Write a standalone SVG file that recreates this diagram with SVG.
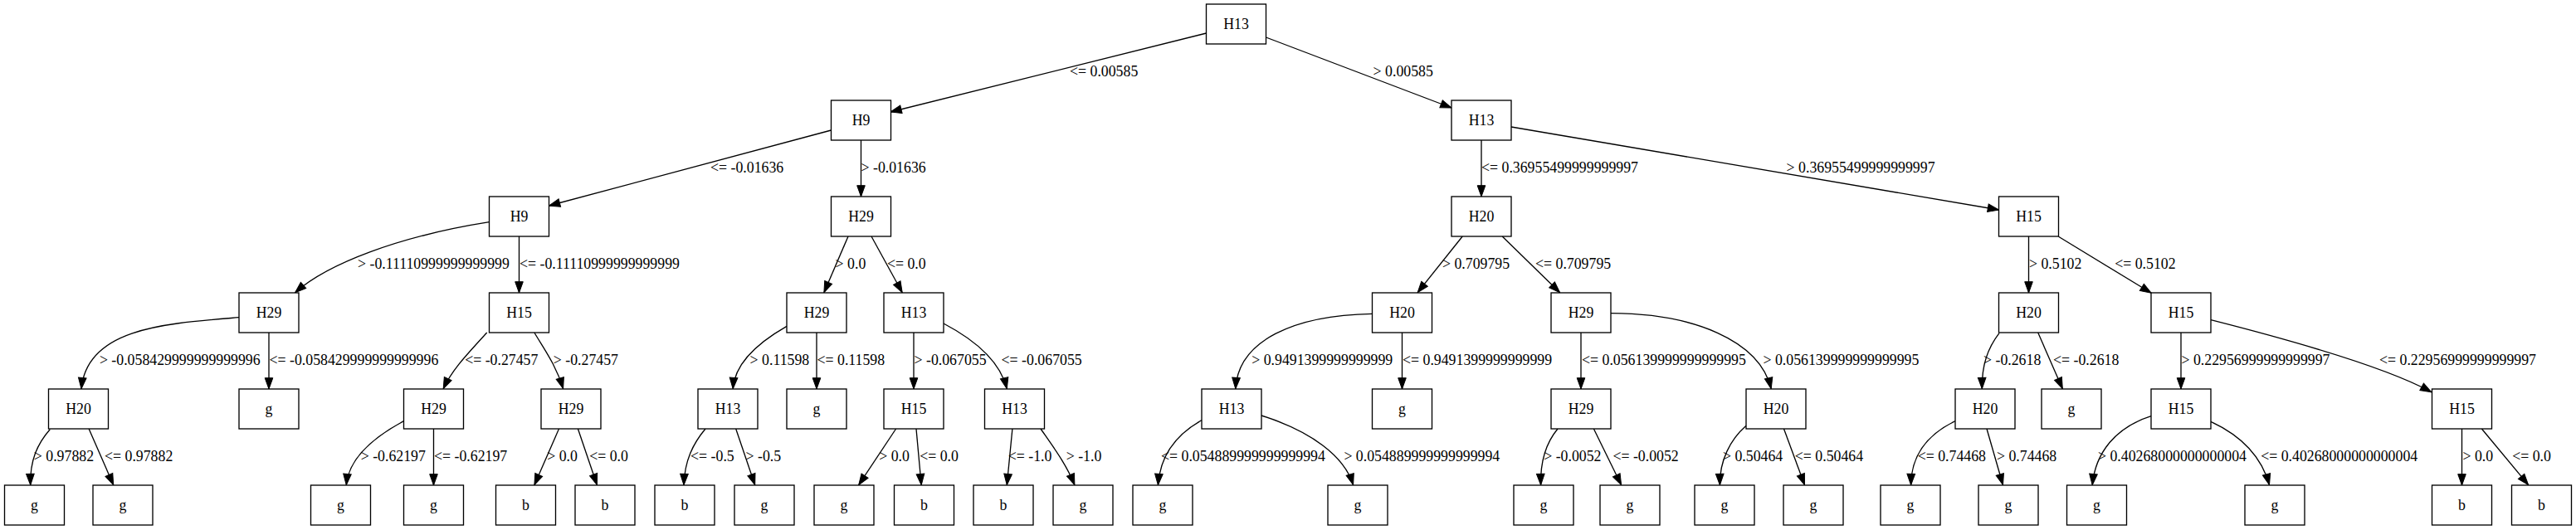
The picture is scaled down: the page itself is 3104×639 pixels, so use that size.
<svg xmlns="http://www.w3.org/2000/svg" width="3104" height="639" viewBox="0 0 3104 639">
<style>
.n rect{fill:#fff;stroke:#000;stroke-width:1.33}
.n text{font-family:"Liberation Serif","Times New Roman",serif;font-size:17.8px;text-anchor:middle;fill:#000}
.e path{fill:none;stroke:#000;stroke-width:1.33;marker-end:url(#ah)}
.e text{font-family:"Liberation Serif","Times New Roman",serif;font-size:17.8px;fill:#000}
</style>
<defs><marker id="ah" markerUnits="userSpaceOnUse" markerWidth="16" markerHeight="12" refX="13.3" refY="4.8" orient="auto" overflow="visible"><path d="M0,0L13.3,4.8L0,9.6z" fill="#000" stroke="#000" stroke-width="1"/></marker></defs>
<rect width="3104" height="639" fill="#fff"/>
<g id="connectors">
<g class="e"><path d="M1453.6,40 L1073,135"/><text x="1289" y="92">&lt;= 0.00585</text></g>
<g class="e"><path d="M1525.5,45 L1749,130"/><text x="1654.6" y="92">&gt; 0.00585</text></g>
<g class="e"><path d="M1001.5,157 L661.5,248"/><text x="856" y="208">&lt;= -0.01636</text></g>
<g class="e"><path d="M1037.5,169 L1037.5,237"/><text x="1037.5" y="208">&gt; -0.01636</text></g>
<g class="e"><path d="M1785,169 L1785,237"/><text x="1785" y="208">&lt;= 0.36955499999999997</text></g>
<g class="e"><path d="M1821,153 L2408.5,253"/><text x="2152.6" y="208">&gt; 0.36955499999999997</text></g>
<g class="e"><path d="M589.5,267.7 C480,285 395,318 355.6,352.7"/><text x="431" y="324">&gt; -0.11110999999999999</text></g>
<g class="e"><path d="M625.5,285 L625.5,353"/><text x="626" y="324">&lt;= -0.11110999999999999</text></g>
<g class="e"><path d="M1022,285 L992.9,352.7"/><text x="1006.6" y="324">&gt; 0.0</text></g>
<g class="e"><path d="M1050,285 L1087.2,352.7"/><text x="1068.9" y="324">&lt;= 0.0</text></g>
<g class="e"><path d="M1762.2,285 L1708.2,352.7"/><text x="1738" y="324">&gt; 0.709795</text></g>
<g class="e"><path d="M1810.2,285 L1879.6,352.7"/><text x="1850" y="324">&lt;= 0.709795</text></g>
<g class="e"><path d="M2444.5,285 L2444.5,353"/><text x="2445" y="324">&gt; 0.5102</text></g>
<g class="e"><path d="M2480.5,285.3 L2592.2,353.3"/><text x="2548.2" y="324">&lt;= 0.5102</text></g>
<g class="e"><path d="M288,382.7 C200,390 105,395 98,468.7"/><text x="119.9" y="440">&gt; -0.058429999999999996</text></g>
<g class="e"><path d="M324,401 L324,469"/><text x="324.5" y="440">&lt;= -0.058429999999999996</text></g>
<g class="e"><path d="M586.7,401 C565,425 545,445 534.2,468.7"/><text x="560.2" y="440">&lt;= -0.27457</text></g>
<g class="e"><path d="M643.9,401 C655,420 670,440 678.6,468.7"/><text x="666.8" y="440">&gt; -0.27457</text></g>
<g class="e"><path d="M948,393.3 C910,415 885,440 883.2,468.7"/><text x="903.6" y="440">&gt; 0.11598</text></g>
<g class="e"><path d="M984,401 L984,469"/><text x="984.5" y="440">&lt;= 0.11598</text></g>
<g class="e"><path d="M1101,401 L1101,469"/><text x="1101.5" y="440">&gt; -0.067055</text></g>
<g class="e"><path d="M1137,390 C1175,410 1205,435 1213.3,468.7"/><text x="1206.6" y="440">&lt;= -0.067055</text></g>
<g class="e"><path d="M1653.5,378.3 C1560,380 1492,410 1488.8,468.7"/><text x="1508.2" y="440">&gt; 0.9491399999999999</text></g>
<g class="e"><path d="M1689.5,401 L1689.5,469"/><text x="1690" y="440">&lt;= 0.9491399999999999</text></g>
<g class="e"><path d="M1905,401 L1905,469"/><text x="1906" y="440">&lt;= 0.056139999999999995</text></g>
<g class="e"><path d="M1941,377.7 C2040,378 2120,410 2134.2,468.7"/><text x="2124.5" y="440">&gt; 0.056139999999999995</text></g>
<g class="e"><path d="M2409,401.7 C2395,420 2388,440 2388.3,468.7"/><text x="2390" y="440">&gt; -0.2618</text></g>
<g class="e"><path d="M2455.7,401 L2485.3,468.7"/><text x="2474" y="440">&lt;= -0.2618</text></g>
<g class="e"><path d="M2628,401 L2628,469"/><text x="2628.5" y="440">&gt; 0.22956999999999997</text></g>
<g class="e"><path d="M2664,385.7 C2740,405 2870,440 2929.8,472.7"/><text x="2867" y="440">&lt;= 0.22956999999999997</text></g>
<g class="e"><path d="M60.2,517.7 C45,535 36,555 36.7,584.7"/><text x="40.8" y="556">&gt; 0.97882</text></g>
<g class="e"><path d="M107.1,517 L136.7,584.7"/><text x="126" y="556">&lt;= 0.97882</text></g>
<g class="e"><path d="M486.5,507.7 C445,530 420,555 417.3,584.7"/><text x="434.7" y="556">&gt; -0.62197</text></g>
<g class="e"><path d="M522.5,517 L522.5,585"/><text x="523" y="556">&lt;= -0.62197</text></g>
<g class="e"><path d="M673.5,517 L643.9,584.7"/><text x="659.2" y="556">&gt; 0.0</text></g>
<g class="e"><path d="M696.4,517 L719.4,584.7"/><text x="710.2" y="556">&lt;= 0.0</text></g>
<g class="e"><path d="M850,517 C835,535 825,555 824,584.7"/><text x="832.1" y="556">&lt;= -0.5</text></g>
<g class="e"><path d="M886.7,517 L909.7,584.7"/><text x="898.5" y="556">&gt; -0.5</text></g>
<g class="e"><path d="M1079.6,517 L1034.7,584.7"/><text x="1059.2" y="556">&gt; 0.0</text></g>
<g class="e"><path d="M1104,517 L1110.2,584.7"/><text x="1108.2" y="556">&lt;= 0.0</text></g>
<g class="e"><path d="M1219.9,517 L1213.3,584.7"/><text x="1214.8" y="556">&lt;= -1.0</text></g>
<g class="e"><path d="M1254,517 C1270,540 1285,560 1294.9,584.7"/><text x="1284.7" y="556">&gt; -1.0</text></g>
<g class="e"><path d="M1448,506.7 C1415,525 1398,550 1395.4,584.7"/><text x="1399" y="556">&lt;= 0.054889999999999994</text></g>
<g class="e"><path d="M1520,501 C1580,520 1620,550 1630.6,584.7"/><text x="1619.4" y="556">&gt; 0.054889999999999994</text></g>
<g class="e"><path d="M1877,517 C1862,535 1856,560 1856.6,584.7"/><text x="1860.2" y="556">&gt; -0.0052</text></g>
<g class="e"><path d="M1920.4,517 L1953.6,584.7"/><text x="1943.4" y="556">&lt;= -0.0052</text></g>
<g class="e"><path d="M2104,513.3 C2085,530 2072,555 2072.4,584.7"/><text x="2076" y="556">&gt; 0.50464</text></g>
<g class="e"><path d="M2149.5,517 L2174.5,584.7"/><text x="2162.8" y="556">&lt;= 0.50464</text></g>
<g class="e"><path d="M2356,507.7 C2320,525 2303,550 2302.6,584.7"/><text x="2310.7" y="556">&lt;= 0.74468</text></g>
<g class="e"><path d="M2394,517 L2413.5,584.7"/><text x="2406" y="556">&gt; 0.74468</text></g>
<g class="e"><path d="M2592,501.7 C2550,515 2525,545 2521.2,584.7"/><text x="2528" y="556">&gt; 0.40268000000000004</text></g>
<g class="e"><path d="M2664,508.3 C2700,525 2725,550 2734.5,584.7"/><text x="2724.2" y="556">&lt;= 0.40268000000000004</text></g>
<g class="e"><path d="M2966.5,517 L2966.5,585"/><text x="2967.5" y="556">&gt; 0.0</text></g>
<g class="e"><path d="M2990.4,517 L3046.6,584.7"/><text x="3027.2" y="556">&lt;= 0.0</text></g>
</g>
<g id="node0" class="n"><rect x="1453.5" y="5" width="72" height="48"/><text x="1489.5" y="34.5">H13</text></g>
<g id="node1" class="n"><rect x="1001.5" y="121" width="72" height="48"/><text x="1037.5" y="150.5">H9</text></g>
<g id="node2" class="n"><rect x="1749" y="121" width="72" height="48"/><text x="1785" y="150.5">H13</text></g>
<g id="node3" class="n"><rect x="589.5" y="237" width="72" height="48"/><text x="625.5" y="266.5">H9</text></g>
<g id="node4" class="n"><rect x="1001.5" y="237" width="72" height="48"/><text x="1037.5" y="266.5">H29</text></g>
<g id="node5" class="n"><rect x="1749" y="237" width="72" height="48"/><text x="1785" y="266.5">H20</text></g>
<g id="node6" class="n"><rect x="2408.5" y="237" width="72" height="48"/><text x="2444.5" y="266.5">H15</text></g>
<g id="node7" class="n"><rect x="288" y="353" width="72" height="48"/><text x="324" y="382.5">H29</text></g>
<g id="node8" class="n"><rect x="589.5" y="353" width="72" height="48"/><text x="625.5" y="382.5">H15</text></g>
<g id="node9" class="n"><rect x="948" y="353" width="72" height="48"/><text x="984" y="382.5">H29</text></g>
<g id="node10" class="n"><rect x="1065" y="353" width="72" height="48"/><text x="1101" y="382.5">H13</text></g>
<g id="node11" class="n"><rect x="1653.5" y="353" width="72" height="48"/><text x="1689.5" y="382.5">H20</text></g>
<g id="node12" class="n"><rect x="1869" y="353" width="72" height="48"/><text x="1905" y="382.5">H29</text></g>
<g id="node13" class="n"><rect x="2408.5" y="353" width="72" height="48"/><text x="2444.5" y="382.5">H20</text></g>
<g id="node14" class="n"><rect x="2592" y="353" width="72" height="48"/><text x="2628" y="382.5">H15</text></g>
<g id="node15" class="n"><rect x="58.5" y="469" width="72" height="48"/><text x="94.5" y="498.5">H20</text></g>
<g id="node16" class="n"><rect x="288" y="469" width="72" height="48"/><text x="324" y="498.5">g</text></g>
<g id="node17" class="n"><rect x="486.5" y="469" width="72" height="48"/><text x="522.5" y="498.5">H29</text></g>
<g id="node18" class="n"><rect x="652" y="469" width="72" height="48"/><text x="688" y="498.5">H29</text></g>
<g id="node19" class="n"><rect x="841" y="469" width="72" height="48"/><text x="877" y="498.5">H13</text></g>
<g id="node20" class="n"><rect x="948" y="469" width="72" height="48"/><text x="984" y="498.5">g</text></g>
<g id="node21" class="n"><rect x="1065" y="469" width="72" height="48"/><text x="1101" y="498.5">H15</text></g>
<g id="node22" class="n"><rect x="1186.5" y="469" width="72" height="48"/><text x="1222.5" y="498.5">H13</text></g>
<g id="node23" class="n"><rect x="1448" y="469" width="72" height="48"/><text x="1484" y="498.5">H13</text></g>
<g id="node24" class="n"><rect x="1653.5" y="469" width="72" height="48"/><text x="1689.5" y="498.5">g</text></g>
<g id="node25" class="n"><rect x="1869" y="469" width="72" height="48"/><text x="1905" y="498.5">H29</text></g>
<g id="node26" class="n"><rect x="2104" y="469" width="72" height="48"/><text x="2140" y="498.5">H20</text></g>
<g id="node27" class="n"><rect x="2356" y="469" width="72" height="48"/><text x="2392" y="498.5">H20</text></g>
<g id="node28" class="n"><rect x="2460" y="469" width="72" height="48"/><text x="2496" y="498.5">g</text></g>
<g id="node29" class="n"><rect x="2592" y="469" width="72" height="48"/><text x="2628" y="498.5">H15</text></g>
<g id="node30" class="n"><rect x="2930.5" y="469" width="72" height="48"/><text x="2966.5" y="498.5">H15</text></g>
<g id="node31" class="n"><rect x="5.5" y="585" width="72" height="48"/><text x="41.5" y="614.5">g</text></g>
<g id="node32" class="n"><rect x="112" y="585" width="72" height="48"/><text x="148" y="614.5">g</text></g>
<g id="node33" class="n"><rect x="374.5" y="585" width="72" height="48"/><text x="410.5" y="614.5">g</text></g>
<g id="node34" class="n"><rect x="486.5" y="585" width="72" height="48"/><text x="522.5" y="614.5">g</text></g>
<g id="node35" class="n"><rect x="597.5" y="585" width="72" height="48"/><text x="633.5" y="614.5">b</text></g>
<g id="node36" class="n"><rect x="693" y="585" width="72" height="48"/><text x="729" y="614.5">b</text></g>
<g id="node37" class="n"><rect x="789" y="585" width="72" height="48"/><text x="825" y="614.5">b</text></g>
<g id="node38" class="n"><rect x="885" y="585" width="72" height="48"/><text x="921" y="614.5">g</text></g>
<g id="node39" class="n"><rect x="981" y="585" width="72" height="48"/><text x="1017" y="614.5">g</text></g>
<g id="node40" class="n"><rect x="1077.5" y="585" width="72" height="48"/><text x="1113.5" y="614.5">b</text></g>
<g id="node41" class="n"><rect x="1173" y="585" width="72" height="48"/><text x="1209" y="614.5">b</text></g>
<g id="node42" class="n"><rect x="1269" y="585" width="72" height="48"/><text x="1305" y="614.5">g</text></g>
<g id="node43" class="n"><rect x="1365" y="585" width="72" height="48"/><text x="1401" y="614.5">g</text></g>
<g id="node44" class="n"><rect x="1600" y="585" width="72" height="48"/><text x="1636" y="614.5">g</text></g>
<g id="node45" class="n"><rect x="1824" y="585" width="72" height="48"/><text x="1860" y="614.5">g</text></g>
<g id="node46" class="n"><rect x="1928" y="585" width="72" height="48"/><text x="1964" y="614.5">g</text></g>
<g id="node47" class="n"><rect x="2042" y="585" width="72" height="48"/><text x="2078" y="614.5">g</text></g>
<g id="node48" class="n"><rect x="2149" y="585" width="72" height="48"/><text x="2185" y="614.5">g</text></g>
<g id="node49" class="n"><rect x="2266" y="585" width="72" height="48"/><text x="2302" y="614.5">g</text></g>
<g id="node50" class="n"><rect x="2384" y="585" width="72" height="48"/><text x="2420" y="614.5">g</text></g>
<g id="node51" class="n"><rect x="2490.5" y="585" width="72" height="48"/><text x="2526.5" y="614.5">g</text></g>
<g id="node52" class="n"><rect x="2705" y="585" width="72" height="48"/><text x="2741" y="614.5">g</text></g>
<g id="node53" class="n"><rect x="2930.5" y="585" width="72" height="48"/><text x="2966.5" y="614.5">b</text></g>
<g id="node54" class="n"><rect x="3026.5" y="585" width="72" height="48"/><text x="3062.5" y="614.5">b</text></g>
</svg>
